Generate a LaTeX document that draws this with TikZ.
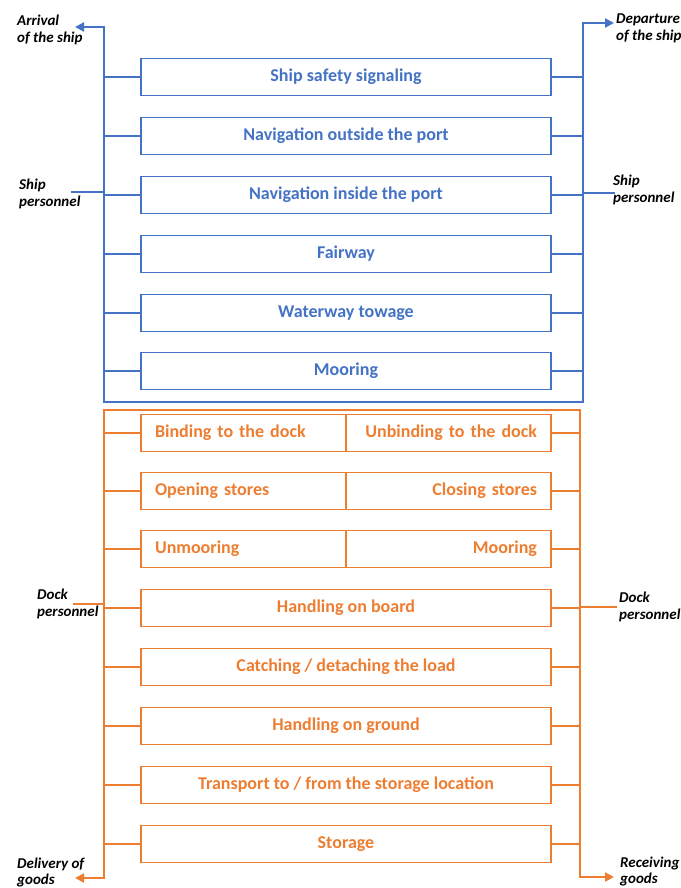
\documentclass[tikz,border=0pt]{standalone}
\usepackage{fontspec}
\setmainfont{Carlito}
\usetikzlibrary{arrows.meta}

\definecolor{shipblue}{HTML}{4472C4}
\definecolor{dockorange}{HTML}{ED7D31}

\tikzset{
  stage/.style={draw, line width=1.4pt, minimum width=410pt, minimum height=37pt,
    inner sep=0pt, font=\fontsize{18}{21}\selectfont\bfseries},
  halfstage/.style={stage, minimum width=205pt, text width=177pt, inner xsep=14pt},
  frame/.style={line width=2.2pt,
    {Triangle[length=9pt,width=9pt]}-{Triangle[length=9pt,width=9pt]}},
  link/.style={line width=1.5pt},
  staff/.style={line width=1.8pt},
  side/.style={inner sep=0pt, anchor=north west, align=left, text=black,
    font=\fontsize{15}{17}\selectfont\bfseries\itshape}
}

\begin{document}
\begin{tikzpicture}[x=1pt,y=-1pt]
  \useasboundingbox (0,0) rectangle (680,888);

  % SHIP SIDE
  \begin{scope}[shipblue]
    \coordinate (arrival) at (75,27);
    \coordinate (sTL) at (104,27);
    \coordinate (sBL) at (104,402);
    \coordinate (sBR) at (583,402);
    \coordinate (sTR) at (583,23);
    \coordinate (departure) at (614,23);
    \draw[frame] (arrival) -- (sTL) -- (sBL) -- (sBR) -- (sTR) -- (departure);

    \node[stage] (Signal) at (346,77) {Ship safety signaling};
    \node[stage] (NavOut) at (346,136) {Navigation outside the port};
    \node[stage] (NavIn) at (346,195) {Navigation inside the port};
    \node[stage] (Fairway) at (346,254) {Fairway};
    \node[stage] (Towage) at (346,313) {Waterway towage};
    \node[stage] (Moor) at (346,371) {Mooring};

    \draw[link]
      (Signal.west) edge (Signal.west -| sTL) (Signal.east) edge (Signal.east -| sTR)
      (NavOut.west) edge (NavOut.west -| sTL) (NavOut.east) edge (NavOut.east -| sTR)
      (NavIn.west) edge (NavIn.west -| sTL) (NavIn.east) edge (NavIn.east -| sTR)
      (Fairway.west) edge (Fairway.west -| sTL) (Fairway.east) edge (Fairway.east -| sTR)
      (Towage.west) edge (Towage.west -| sTL) (Towage.east) edge (Towage.east -| sTR)
      (Moor.west) edge (Moor.west -| sTL) (Moor.east) edge (Moor.east -| sTR);

    % ship personnel
    \coordinate (shipL) at (71,192);
    \coordinate (shipR) at (615,193);
    \draw[staff] (shipL) -- (shipL -| sTL) (shipR) -- (shipR -| sTR);
  \end{scope}

  % DOCK SIDE
  \begin{scope}[dockorange]
    \coordinate (oTL) at (104,410);
    \coordinate (oBL) at (104,878);
    \coordinate (oTR) at (580,410);
    \coordinate (oBR) at (580,877);
    \coordinate (delivery) at (75,878);
    \coordinate (receiving) at (614,877);
    \draw[frame] (delivery) -- (oBL) -- (oTL) -- (oTR) -- (oBR) -- (receiving);

    \node[halfstage, align=left] (Bind) at (243.5,433) {Binding to the dock};
    \node[halfstage, align=right] (Unbind) at (448.5,433) {Unbinding to the dock};
    \node[halfstage, align=left] (Open) at (243.5,491) {Opening stores};
    \node[halfstage, align=right] (Close) at (448.5,491) {Closing stores};
    \node[halfstage, align=left] (Unmoor) at (243.5,549) {Unmooring};
    \node[halfstage, align=right] (DockMoor) at (448.5,549) {Mooring};
    \node[stage] (Board) at (346,608) {Handling on board};
    \node[stage] (Catch) at (346,667) {Catching / detaching the load};
    \node[stage] (Ground) at (346,726) {Handling on ground};
    \node[stage] (Transport) at (346,785) {Transport to / from the storage location};
    \node[stage] (Storage) at (346,844) {Storage};

    \draw[link]
      (Bind.west) edge (Bind.west -| oTL) (Unbind.east) edge (Unbind.east -| oTR)
      (Open.west) edge (Open.west -| oTL) (Close.east) edge (Close.east -| oTR)
      (Unmoor.west) edge (Unmoor.west -| oTL) (DockMoor.east) edge (DockMoor.east -| oTR)
      (Board.west) edge (Board.west -| oTL) (Board.east) edge (Board.east -| oTR)
      (Catch.west) edge (Catch.west -| oTL) (Catch.east) edge (Catch.east -| oTR)
      (Ground.west) edge (Ground.west -| oTL) (Ground.east) edge (Ground.east -| oTR)
      (Transport.west) edge (Transport.west -| oTL) (Transport.east) edge (Transport.east -| oTR)
      (Storage.west) edge (Storage.west -| oTL) (Storage.east) edge (Storage.east -| oTR);

    % dock personnel
    \coordinate (dockL) at (73,604);
    \coordinate (dockR) at (617,607);
    \draw[staff] (dockL) -- (dockL -| oTL) (dockR) -- (dockR -| oTR);
  \end{scope}

  % side labels
  \node[side] (arrivalTxt) at (17,15) {Arrival\\of the ship};
  \node[side] (departureTxt) at (616,14) {Departure\\of the ship};
  \node[side] (shipTxtL) at (19,179) {Ship\\personnel};
  \node[side] (shipTxtR) at (613,175) {Ship\\personnel};
  \node[side] (dockTxtL) at (37,589) {Dock\\personnel};
  \node[side] (dockTxtR) at (619,592) {Dock\\personnel};
  \node[side, font=\fontsize{15}{16}\selectfont\bfseries\itshape] (deliveryTxt) at (17,858) {Delivery of\\goods};
  \node[side, font=\fontsize{15}{16}\selectfont\bfseries\itshape] (receivingTxt) at (620,857) {Receiving\\goods};
\end{tikzpicture}
\end{document}
